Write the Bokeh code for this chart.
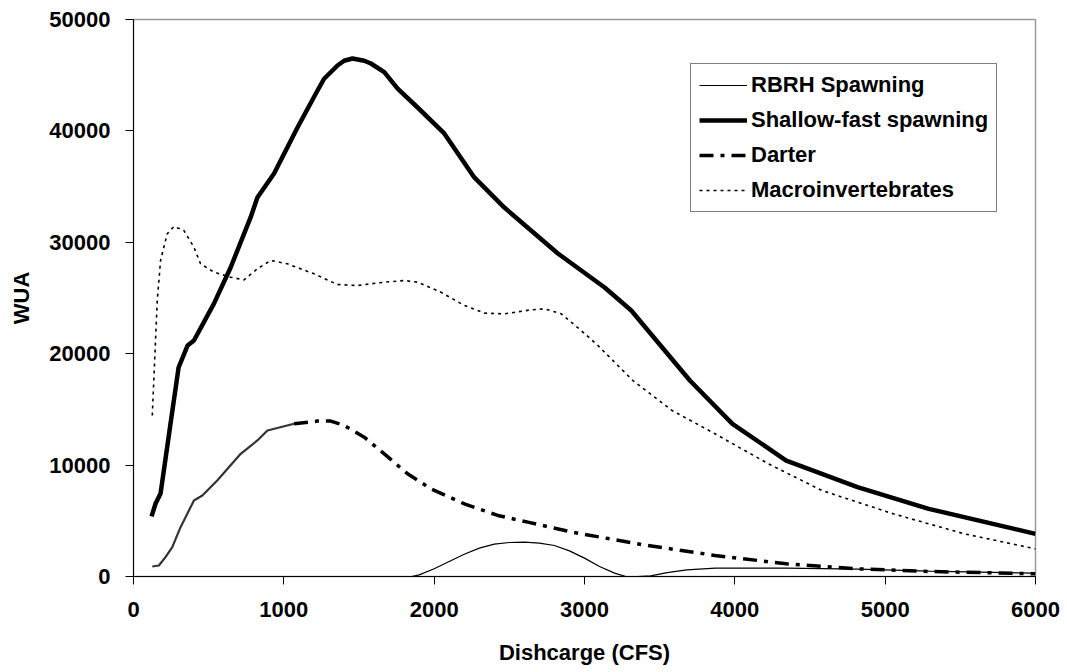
from bokeh.plotting import figure
from bokeh.models import FixedTicker, Range1d, Legend, LegendItem
from bokeh.embed import file_html
from bokeh.resources import INLINE

# ---- data ----
cfs_rbrh = [125, 500, 1000, 1500, 1850, 1900, 2000, 2100, 2200, 2300, 2400, 2500, 2600, 2700, 2800, 2900, 3000, 3100, 3200, 3275, 3350, 3440, 3550, 3680, 3870, 4340, 4820, 5290, 6000]
wua_rbrh = [0, 0, 0, 0, 0, 150, 700, 1350, 2000, 2550, 2900, 3050, 3080, 3000, 2780, 2300, 1650, 900, 300, 0, 0, 60, 350, 600, 750, 750, 660, 480, 300]

cfs_shallow = [120, 147, 180, 246, 300, 360, 402, 535, 646, 779, 824, 935, 1091, 1224, 1268, 1357, 1401, 1457, 1535, 1579, 1668, 1757, 1890, 2067, 2267, 2467, 2823, 3134, 3311, 3701, 3984, 4342, 4816, 5290, 6000]
wua_shallow = [5400, 6550, 7450, 13700, 18760, 20740, 21180, 24500, 27740, 32230, 34020, 36180, 40300, 43630, 44680, 45870, 46300, 46500, 46300, 46050, 45270, 43800, 42100, 39770, 35820, 33120, 28990, 25940, 23880, 17590, 13700, 10410, 8020, 6070, 3830]

cfs_darter = [125, 169, 213, 258, 313, 402, 458, 557, 713, 824, 891, 1068, 1224, 1312, 1401, 1535, 1668, 1823, 1979, 2201, 2423, 2623, 2919, 3393, 3868, 4342, 4816, 5290, 6000]
wua_darter = [900, 990, 1740, 2630, 4430, 6820, 7270, 8620, 11010, 12210, 13110, 13710, 13950, 13950, 13560, 12510, 11010, 9220, 7870, 6520, 5480, 4880, 3980, 2840, 1890, 1140, 690, 450, 240]

cfs_macro = [125, 158, 180, 224, 269, 335, 402, 446, 535, 646, 735, 824, 913, 1024, 1201, 1357, 1490, 1668, 1801, 1890, 2045, 2201, 2334, 2467, 2645, 2734, 2845, 2978, 3089, 3322, 3583, 3868, 4223, 4579, 5053, 5527, 6000]
wua_macro = [14450, 24780, 28370, 30760, 31420, 31060, 29560, 28070, 27320, 26870, 26630, 27620, 28370, 28070, 27170, 26210, 26120, 26420, 26570, 26420, 25520, 24330, 23640, 23580, 23940, 24030, 23580, 22080, 20740, 17590, 14900, 12810, 10120, 7720, 5630, 3830, 2480]

x_ticks = [0, 1000, 2000, 3000, 4000, 5000, 6000]
y_ticks = [0, 10000, 20000, 30000, 40000, 50000]

FONT = "Liberation Sans"

p = figure(width=1067, height=672, output_backend="svg", toolbar_location=None,
           x_range=Range1d(0, 6000), y_range=Range1d(0, 50000),
           min_border_left=133, min_border_right=32, min_border_top=19, min_border_bottom=96)

p.xgrid.visible = False
p.ygrid.visible = False
p.outline_line_color = "#9a9a9a"
p.outline_line_width = 1.5

for ax in (p.xaxis[0], p.yaxis[0]):
    ax.major_label_text_font = FONT
    ax.major_label_text_font_style = "bold"
    ax.major_label_text_font_size = "22px"
    ax.major_label_text_color = "black"
    ax.axis_label_text_font = FONT
    ax.axis_label_text_font_style = "bold"
    ax.axis_label_text_font_size = "22px"
    ax.axis_label_text_color = "black"
    ax.axis_line_color = "black"
    ax.axis_line_width = 1
    ax.major_tick_line_color = "black"
    ax.major_tick_out = 8
    ax.major_tick_in = 0
    ax.minor_tick_out = 0
    ax.minor_tick_in = 0

p.xaxis.ticker = FixedTicker(ticks=x_ticks)
p.yaxis.ticker = FixedTicker(ticks=y_ticks)
p.xaxis.axis_label = "Dishcarge (CFS)"
p.yaxis.axis_label = "WUA"
p.xaxis.major_label_standoff = 17
p.yaxis.major_label_standoff = 15
p.xaxis.axis_label_standoff = 20
p.yaxis.axis_label_standoff = 12

r_rbrh = p.line(cfs_rbrh, wua_rbrh, line_color="black", line_width=1.2)
r_shallow = p.line(cfs_shallow, wua_shallow, line_color="black", line_width=4.5,
                   line_join="round")

# darter: dense early segment appears solid, rest long-dash-dot
split = 12
p.line(cfs_darter[:split], wua_darter[:split], line_color="#333333", line_width=2.2,
       line_join="round")
r_darter = p.line(cfs_darter[split - 1:], wua_darter[split - 1:], line_color="black",
                  line_width=3.5, line_dash="14 7 4 7")
r_macro = p.line(cfs_macro, wua_macro, line_color="black", line_width=1.6, line_dash="3 4")

legend = Legend(items=[
    LegendItem(label="RBRH Spawning", renderers=[r_rbrh]),
    LegendItem(label="Shallow-fast spawning", renderers=[r_shallow]),
    LegendItem(label="Darter", renderers=[r_darter]),
    LegendItem(label="Macroinvertebrates", renderers=[r_macro]),
], location=(557, 364))
legend.label_text_font = FONT
legend.label_text_font_style = "bold"
legend.label_text_font_size = "22px"
legend.label_text_color = "black"
legend.border_line_color = "black"
legend.border_line_width = 1
legend.background_fill_alpha = 1
legend.glyph_width = 48
legend.glyph_height = 24
legend.label_height = 24
legend.label_standoff = 4
legend.spacing = 9
legend.padding = 8
legend.margin = 0
p.add_layout(legend, "center")

open("out.html", "w").write(file_html(p, INLINE))
